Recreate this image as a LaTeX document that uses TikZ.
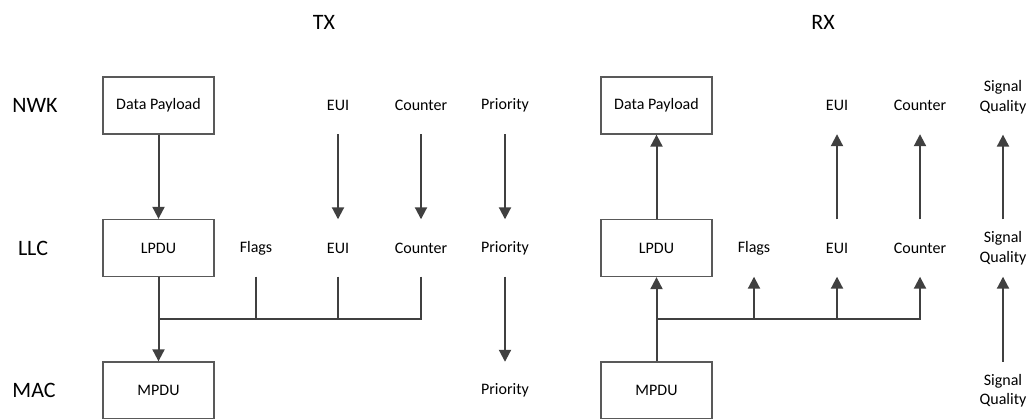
\documentclass[tikz,border=0pt]{standalone}
\usepackage{fontspec}
\setmainfont{Carlito}
\usetikzlibrary{arrows.meta}
\definecolor{ln}{HTML}{404040}
\definecolor{bx}{HTML}{595959}
\tikzset{
  blk/.style={draw=bx, line width=1.3pt, minimum width=111pt, minimum height=57pt, inner sep=0pt, font=\fontsize{16}{19.5}\selectfont},
  lbl/.style={minimum width=60pt, minimum height=57pt, inner sep=0pt, align=center, font=\fontsize{16}{19.5}\selectfont},
  lay/.style={inner sep=0pt, font=\fontsize{22}{26}\selectfont},
  arr/.style={draw=ln, line width=2pt, -{Triangle[width=12pt,length=12pt]}},
  bus/.style={draw=ln, line width=2pt}
}
\begin{document}
\begin{tikzpicture}[x=1pt,y=-1pt]
\useasboundingbox (0,0) rectangle (1028,419);
\clip (0,0) rectangle (1028,418);
% headings
\node[lay] (tx) at (324,22) {TX};
\node[lay] (rx) at (823,22) {RX};
\node[lay] (nwk) at (35,105) {NWK};
\node[lay] (llc) at (33,248) {LLC};
\node[lay] (mac) at (34,390) {MAC};
% TX
\node[blk] (tdp) at (158.5,105.5) {Data Payload};
\node[lbl] (teui1) at (338,105.5) {EUI};
\node[lbl] (tcnt1) at (421,105.5) {Counter};
\node[lbl] (tpri1) at (505,105.5) {Priority};
\node[blk] (tlp) at (158.5,248) {LPDU};
\node[lbl] (tflg) at (256,248) {Flags};
\node[lbl] (teui2) at (338,248) {EUI};
\node[lbl] (tcnt2) at (421,248) {Counter};
\node[lbl] (tpri2) at (505,248) {Priority};
\node[blk] (tmp) at (158.5,390.5) {MPDU};
\node[lbl] (tpri3) at (505,390.5) {Priority};
\draw[arr] (tdp) -- (tlp);
\draw[arr] (teui1) -- (teui2);
\draw[arr] (tcnt1) -- (tcnt2);
\draw[arr] (tpri1) -- (tpri2);
\draw[arr] (tpri2) -- (tpri3);
\draw[arr] (tlp) -- (tmp);
\coordinate (tb) at (158.5,319);
\draw[bus] (tflg.south) |- (tb);
\draw[bus] (teui2.south) |- (tb);
\draw[bus] (tcnt2.south) |- (tb);
% RX
\node[blk] (rdp) at (656.5,105.5) {Data Payload};
\node[lbl] (reui1) at (837,105.5) {EUI};
\node[lbl] (rcnt1) at (920,105.5) {Counter};
\node[lbl] (rsq1) at (1003,97) {Signal\\Quality};
\node[blk] (rlp) at (656.5,248) {LPDU};
\node[lbl] (rflg) at (754,248) {Flags};
\node[lbl] (reui2) at (837,248) {EUI};
\node[lbl] (rcnt2) at (920,248) {Counter};
\node[lbl] (rsq2) at (1003,248) {Signal\\Quality};
\node[blk] (rmp) at (656.5,390.5) {MPDU};
\node[lbl] (rsq3) at (1003,390.5) {Signal\\Quality};
\draw[arr] (rlp) -- (rdp);
\draw[arr] (reui2) -- (reui1);
\draw[arr] (rcnt2) -- (rcnt1);
\draw[arr] (rsq2.north) -- (rsq1.south |- tdp.south);
\draw[arr] (rsq3) -- (rsq2);
\draw[arr] (rmp) -- (rlp);
\coordinate (rb) at (656.5,319);
\draw[arr] (rb) -| (rflg.south);
\draw[arr] (rb) -| (reui2.south);
\draw[arr] (rb) -| (rcnt2.south);
\end{tikzpicture}
\end{document}
